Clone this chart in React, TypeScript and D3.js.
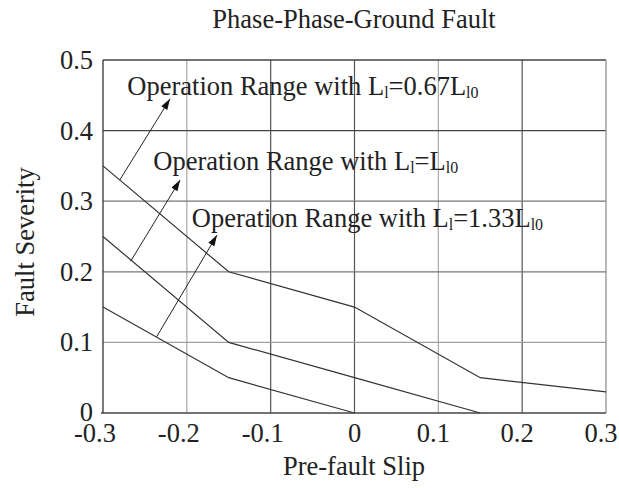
import React from "react";
import * as d3 from "d3";

const xTicks = [-0.3, -0.2, -0.1, 0, 0.1, 0.2, 0.3];
const yTicks = [0, 0.1, 0.2, 0.3, 0.4, 0.5];

const curveA: [number, number][] = [[-0.3, 0.35], [-0.15, 0.2], [0, 0.15], [0.15, 0.05], [0.3, 0.03]];
const curveB: [number, number][] = [[-0.3, 0.25], [-0.15, 0.1], [0, 0.05], [0.15, 0]];
const curveC: [number, number][] = [[-0.3, 0.15], [-0.15, 0.05], [0, 0]];

// arrows: [tailX, tailY, headX, headY]
const arrows: [number, number, number, number][] = [
  [-0.28, 0.33, -0.22, 0.445],
  [-0.267, 0.215, -0.208, 0.33],
  [-0.236, 0.108, -0.164, 0.252],
];

const labelPrefixes = ["Operation Range with L", "Operation Range with L", "Operation Range with L"];
const labelValues = ["=0.67L", "=L", "=1.33L"];
const labelAnchors: [number, number][] = [[-0.271, 0.451], [-0.24, 0.344], [-0.194, 0.263]];

const W = 619, H = 488;
const FONT = "'Liberation Serif', 'Times New Roman', serif";

export default function App() {
  const x = d3.scaleLinear().domain([-0.3, 0.3]).range([103, 606]);
  const y = d3.scaleLinear().domain([0, 0.5]).range([413, 60]);
  const line = d3.line<[number, number]>().x(d => x(d[0])).y(d => y(d[1]));

  const near = (a: number, b: number) => Math.abs(a - b) < 1e-9;
  const vGridColor = (t: number) => (near(t, -0.2) || near(t, 0.1) ? "#a8a8a8" : "#555");
  const hGridColor = (t: number) => (near(t, 0.1) ? "#a0a0a0" : near(t, 0.4) ? "#444" : "#777");

  const arrowHead = (x1: number, y1: number, x2: number, y2: number) => {
    const ang = Math.atan2(y2 - y1, x2 - x1);
    const len = 11, half = 3.5;
    const bx = x2 - len * Math.cos(ang), by = y2 - len * Math.sin(ang);
    const px = -Math.sin(ang) * half, py = Math.cos(ang) * half;
    return `${x2},${y2} ${bx + px},${by + py} ${bx - px},${by - py}`;
  };

  const xLabelShift = (t: number) => (near(t, 0) ? 0 : t < 0 ? -8 : -5);

  return (
    <svg width={W} height={H} style={{ position: "absolute", left: 0, top: 0, background: "#fff" }} fontFamily={FONT}>
      <rect x={0} y={0} width={W} height={H} fill="#fff" />
      <text x={354} y={28} textAnchor="middle" fontSize={26.5} fill="#222">Phase-Phase-Ground Fault</text>

      {xTicks.slice(1, -1).map(t => (
        <line key={"vx" + t} x1={x(t)} x2={x(t)} y1={y(0.5)} y2={y(0)} stroke={vGridColor(t)} strokeWidth={1.2} />
      ))}
      {yTicks.slice(1, -1).map(t => (
        <line key={"hy" + t} x1={x(-0.3)} x2={x(0.3)} y1={y(t)} y2={y(t)} stroke={hGridColor(t)} strokeWidth={1.2} />
      ))}
      <line x1={x(-0.3)} x2={x(0.3)} y1={y(0.5)} y2={y(0.5)} stroke="#444" strokeWidth={1.3} />
      <line x1={x(-0.3) - 2} x2={x(0.3)} y1={y(0)} y2={y(0)} stroke="#444" strokeWidth={1.5} />
      <line x1={x(-0.3)} x2={x(-0.3)} y1={y(0.5)} y2={y(0)} stroke="#333" strokeWidth={1.3} />
      <line x1={x(0.3)} x2={x(0.3)} y1={y(0.5)} y2={y(0)} stroke="#888" strokeWidth={1.2} />

      {[curveA, curveB, curveC].map((c, i) => (
        <path key={"c" + i} d={line(c) || ""} fill="none" stroke="#333" strokeWidth={1.2} />
      ))}

      {arrows.map((a, i) => {
        const x1 = x(a[0]), y1 = y(a[1]), x2 = x(a[2]), y2 = y(a[3]);
        return (
          <g key={"a" + i}>
            <line x1={x1} y1={y1} x2={x2} y2={y2} stroke="#222" strokeWidth={1} />
            <polygon points={arrowHead(x1, y1, x2, y2)} fill="#111" />
          </g>
        );
      })}

      {labelPrefixes.map((p, i) => (
        <text key={"l" + i} x={x(labelAnchors[i][0])} y={y(labelAnchors[i][1])} fontSize={26.5} fill="#222">
          {p}
          <tspan fontSize={16} dy={3}>l</tspan>
          <tspan fontSize={26.5} dy={-3}>{labelValues[i]}</tspan>
          <tspan fontSize={16} dy={3}>l0</tspan>
        </text>
      ))}

      {xTicks.map(t => (
        <text key={"xt" + t} x={x(t) + xLabelShift(t)} y={442} textAnchor="middle" fontSize={26.5} fill="#222">
          {near(t, 0) ? "0" : d3.format(".1f")(t).replace("−", "-")}
        </text>
      ))}
      {yTicks.map(t => (
        <text key={"yt" + t} x={93} y={y(t) + (near(t, 0) ? 8 : 9)} textAnchor="end" fontSize={26.5} fill="#222">
          {near(t, 0) ? "0" : d3.format(".1f")(t)}
        </text>
      ))}

      <text x={354} y={475} textAnchor="middle" fontSize={26.5} fill="#222">Pre-fault Slip</text>
      <text transform={`translate(34,242) rotate(-90)`} textAnchor="middle" fontSize={26.5} fill="#222">Fault Severity</text>
    </svg>
  );
}
